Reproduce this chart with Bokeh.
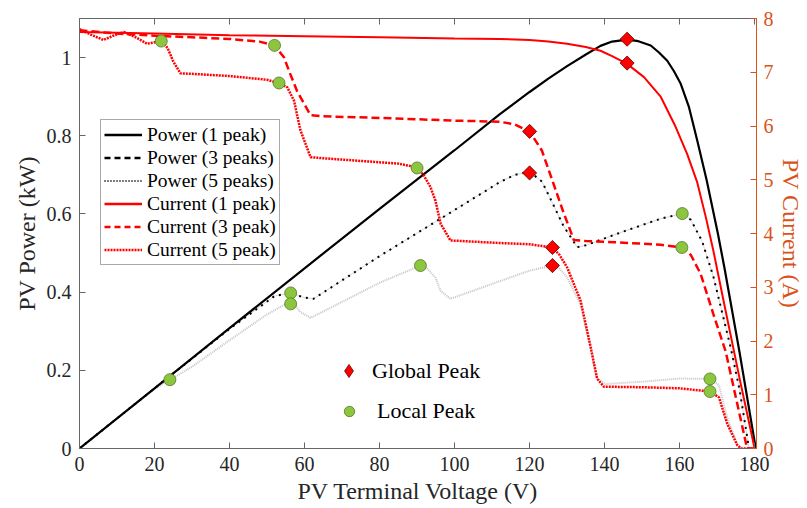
import math
from bokeh.plotting import figure
from bokeh.models import Range1d, LinearAxis, FixedTicker, Legend, LegendItem, CustomJSTickFormatter
from bokeh.embed import file_html
from bokeh.resources import INLINE

# ---------------- data ----------------
x_ticks = [0, 20, 40, 60, 80, 100, 120, 140, 160, 180]
p_ticks = [0, 0.2, 0.4, 0.6, 0.8, 1.0]
i_ticks = [0, 1, 2, 3, 4, 5, 6, 7, 8]

# Power, 1 peak (kW)
p1_v = [0, 20, 40, 60, 80, 100, 112, 120, 125, 130, 135, 138.9, 142, 146, 149, 152.3, 154.5, 156.7, 158.5, 160.3, 162.5, 164.7, 167.2, 170.2, 172, 176, 180.3]
p1_kw = [0, 0.154, 0.308, 0.461, 0.613, 0.763, 0.855, 0.912, 0.946, 0.978, 1.008, 1.030, 1.041, 1.046, 1.042, 1.031, 1.013, 0.992, 0.965, 0.933, 0.873, 0.788, 0.687, 0.55, 0.46, 0.245, 0]

# Power, 3 peaks (kW)
p3_v = [0, 20, 40, 52, 56.3, 58, 60, 62.4, 80, 100, 112, 116, 120, 123.3, 126, 129, 132.7, 135, 145, 155, 160.7, 163, 166, 169, 173.6, 176, 178.5, 180]
p3_kw = [0, 0.154, 0.306, 0.39, 0.398, 0.392, 0.386, 0.383, 0.492, 0.61, 0.681, 0.70, 0.708, 0.683, 0.63, 0.57, 0.515, 0.52, 0.555, 0.588, 0.601, 0.585, 0.53, 0.44, 0.259, 0.15, 0, 0]

# Power, 5 peaks (kW)
p5_v = [0, 10, 20, 24.1, 30, 40, 50, 55.4, 57.2, 58.9, 61.6, 70, 80, 90.9, 92.5, 94.9, 96.3, 98.9, 110, 120, 126.1, 128, 130, 133.6, 136.3, 138, 140.3, 150, 160, 168.1, 170.5, 172.7, 175.4, 176.5, 180]
p5_kw = [0, 0.077, 0.152, 0.176, 0.209, 0.277, 0.343, 0.372, 0.37, 0.349, 0.334, 0.375, 0.424, 0.468, 0.462, 0.437, 0.403, 0.383, 0.421, 0.455, 0.468, 0.46, 0.438, 0.367, 0.256, 0.179, 0.165, 0.171, 0.179, 0.178, 0.162, 0.079, 0.01, 0, 0]

# Current, 1 peak (A)
i1_v = [0, 20, 40, 60, 80, 100, 112, 120, 125, 130, 135, 138.9, 142, 145.9, 150.5, 155, 158.9, 162, 164.7, 167, 169, 172, 176, 180]
i1_a = [7.75, 7.72, 7.69, 7.67, 7.65, 7.63, 7.62, 7.60, 7.57, 7.53, 7.47, 7.40, 7.30, 7.16, 6.91, 6.54, 5.99, 5.48, 4.95, 4.3, 3.68, 2.65, 1.3, 0]

# Current, 3 peaks (A)
i3_v = [0, 10, 20, 30, 40, 48, 52, 54.5, 56, 58, 61.6, 65, 80, 100, 112, 116, 120, 123.3, 126, 129, 131.8, 135, 145, 155, 160.6, 163, 165.6, 169, 172.3, 175, 178, 180]
i3_a = [7.78, 7.72, 7.68, 7.65, 7.62, 7.57, 7.50, 7.28, 7.0, 6.65, 6.2, 6.18, 6.15, 6.1, 6.08, 6.03, 5.9, 5.54, 5.0, 4.4, 3.88, 3.86, 3.83, 3.79, 3.74, 3.6, 3.25, 2.5, 1.8, 0.95, 0, 0]

# Current, 5 peaks (A)
i5_v = [0, 3, 6.4, 9, 11.8, 15, 18, 21.8, 23.5, 25, 26.9, 30, 40, 50, 53.2, 55.4, 57.2, 58.9, 61.6, 65, 75, 85, 90, 91.8, 93.6, 94.9, 96.3, 98.9, 102, 110, 120, 126.1, 128, 130, 133.6, 136.3, 138, 139.8, 150, 160, 168.1, 170.5, 172.7, 175.4, 176.5, 180]
i5_a = [7.8, 7.7, 7.6, 7.68, 7.75, 7.65, 7.53, 7.58, 7.45, 7.2, 6.98, 6.97, 6.93, 6.86, 6.8, 6.72, 6.47, 5.92, 5.42, 5.4, 5.35, 5.3, 5.23, 5.08, 4.86, 4.61, 4.18, 3.87, 3.86, 3.83, 3.8, 3.74, 3.6, 3.37, 2.75, 1.88, 1.3, 1.15, 1.14, 1.12, 1.06, 0.95, 0.46, 0.06, 0, 0]

# Global peaks
gp_p_v = [146, 120, 126.1]
gp_p_kw = [1.047, 0.705, 0.468]
gp_i_v = [146, 120, 126.1]
gp_i_a = [7.17, 5.9, 3.74]

# Local peaks
lp_p_v = [24.1, 56.3, 56.3, 90.9, 160.7, 168.1]
lp_p_kw = [0.176, 0.398, 0.37, 0.468, 0.601, 0.178]
lp_i_v = [21.8, 52, 53.2, 90, 160.6, 168.1]
lp_i_a = [7.58, 7.5, 6.8, 5.22, 3.74, 1.06]

# ---------------- styling ----------------
FONT = "Liberation Serif"
ORANGE = "#D95319"
AXC = "#666666"
TXT = "#262626"
RED = "#FF0000"
GREEN = "#8CC63F"
NAN = float("nan")

p = figure(width=807, height=508, output_backend="svg", toolbar_location=None,
           x_range=Range1d(0, 180.5), y_range=Range1d(0, 1.1),
           min_border_left=79, min_border_right=51, min_border_top=18, min_border_bottom=60)
p.extra_y_ranges = {"cur": Range1d(0, 8)}
p.xgrid.visible = False
p.ygrid.visible = False
p.outline_line_color = AXC
p.outline_line_width = 1
p.background_fill_color = "white"
p.border_fill_color = "white"

# bottom axis
xa = p.xaxis[0]
xa.ticker = FixedTicker(ticks=x_ticks)
xa.axis_label = "PV Terminal Voltage (V)"
xa.axis_label_text_font = FONT
xa.axis_label_text_font_size = "24px"
xa.axis_label_text_font_style = "normal"
xa.axis_label_text_color = TXT
xa.axis_label_standoff = 4
xa.major_label_text_font = FONT
xa.major_label_text_font_size = "20px"
xa.major_label_text_color = TXT
xa.major_label_standoff = 8
xa.major_tick_in = 6
xa.major_tick_out = 0
xa.minor_tick_line_color = None
xa.axis_line_color = AXC
xa.major_tick_line_color = AXC

# left axis
ya = p.yaxis[0]
ya.ticker = FixedTicker(ticks=p_ticks)
ya.major_label_overrides = {0: "0", 1: "1"}
ya.axis_label = "PV Power (kW)"
ya.axis_label_text_font = FONT
ya.axis_label_text_font_size = "24px"
ya.axis_label_text_font_style = "normal"
ya.axis_label_text_color = TXT
ya.axis_label_standoff = 4
ya.major_label_text_font = FONT
ya.major_label_text_font_size = "20px"
ya.major_label_text_color = TXT
ya.major_label_standoff = 8
ya.major_tick_in = 6
ya.major_tick_out = 0
ya.minor_tick_line_color = None
ya.axis_line_color = AXC
ya.major_tick_line_color = AXC

# top axis (ticks only)
top = LinearAxis(ticker=FixedTicker(ticks=x_ticks),
                 formatter=CustomJSTickFormatter(code="return ''"),
                 major_label_text_font_size="0px", major_label_standoff=0,
                 major_tick_in=6, major_tick_out=0, minor_tick_line_color=None,
                 axis_line_color=None, major_tick_line_color=AXC)
p.add_layout(top, "above")

# right axis (current)
ra = LinearAxis(y_range_name="cur", ticker=FixedTicker(ticks=i_ticks),
                axis_label="PV Current (A)",
                axis_label_text_font=FONT, axis_label_text_font_size="24px",
                axis_label_text_font_style="normal", axis_label_text_color=ORANGE,
                axis_label_standoff=1,
                major_label_text_font=FONT, major_label_text_font_size="20px",
                major_label_text_color=ORANGE, major_label_standoff=7,
                major_tick_in=6, major_tick_out=0, minor_tick_line_color=None,
                axis_line_color=ORANGE, major_tick_line_color=ORANGE)
try:
    ra.axis_label_orientation = "vertical"
except Exception:
    pass
p.add_layout(ra, "right")

# ---------------- curves ----------------
p.line(p5_v, p5_kw, line_color="#c4c4c4", line_width=2, line_dash="1 1")
p.line(p3_v, p3_kw, line_color="#d8d8d8", line_width=1)
p.line(p3_v, p3_kw, line_color="black", line_width=2, line_dash="2 5")
p.line(p1_v, p1_kw, line_color="black", line_width=2.2)

p.line(i5_v, i5_a, y_range_name="cur", line_color=RED, line_width=2.5, line_dash="2 1")
p.line(i3_v, i3_a, y_range_name="cur", line_color=RED, line_width=2.5, line_dash="8 4")
p.line(i1_v, i1_a, y_range_name="cur", line_color=RED, line_width=2)

# markers
p.scatter(lp_p_v, lp_p_kw, marker="circle", size=12, fill_color=GREEN, line_color="#55752b", line_width=0.8)
p.scatter(lp_i_v, lp_i_a, y_range_name="cur", marker="circle", size=12, fill_color=GREEN, line_color="#55752b", line_width=0.8)
p.scatter(gp_p_v, gp_p_kw, marker="square", angle=math.pi / 4, size=10, fill_color=RED, line_color="#5a0000", line_width=0.8)
p.scatter(gp_i_v, gp_i_a, y_range_name="cur", marker="square", angle=math.pi / 4, size=10, fill_color=RED, line_color="#5a0000", line_width=0.8)

# ---------------- legends (proxy renderers hold no visible point) ----------------
l1 = p.line([NAN, NAN], [NAN, NAN], line_color="black", line_width=2.5)
l2 = p.line([NAN, NAN], [NAN, NAN], line_color="black", line_width=2.5, line_dash="6 4")
l3 = p.line([NAN, NAN], [NAN, NAN], line_color="black", line_width=2, line_dash="1 2")
l4 = p.line([NAN, NAN], [NAN, NAN], line_color=RED, line_width=2.5)
l5 = p.line([NAN, NAN], [NAN, NAN], line_color=RED, line_width=2.5, line_dash="6 4")
l6 = p.line([NAN, NAN], [NAN, NAN], line_color=RED, line_width=2.5, line_dash="2 1")

leg = Legend(items=[LegendItem(label="Power (1 peak)", renderers=[l1]),
                    LegendItem(label="Power (3 peaks)", renderers=[l2]),
                    LegendItem(label="Power (5 peaks)", renderers=[l3]),
                    LegendItem(label="Current (1 peak)", renderers=[l4]),
                    LegendItem(label="Current (3 peak)", renderers=[l5]),
                    LegendItem(label="Current (5 peak)", renderers=[l6])],
             location=(21, 183), margin=0, padding=3, spacing=0,
             glyph_width=38, glyph_height=23, label_height=23, label_standoff=5,
             label_text_font=FONT, label_text_font_size="19.5px", label_text_color="black",
             border_line_color="#555555", border_line_width=1,
             background_fill_color="white", background_fill_alpha=1)
p.add_layout(leg, "center")

g1 = p.scatter([NAN], [NAN], marker="diamond", fill_color=RED, line_color="#5a0000", line_width=0.8)
g2 = p.scatter([NAN], [NAN], marker="circle", fill_color=GREEN, line_color="#55752b", line_width=0.8)

legA = Legend(items=[LegendItem(label="Global Peak", renderers=[g1])],
              location=(253, 61), margin=0, padding=0, spacing=0,
              glyph_width=33, glyph_height=33, label_height=33, label_standoff=7,
              label_text_font=FONT, label_text_font_size="22px", label_text_color="black",
              border_line_color=None, background_fill_alpha=0)
legB = Legend(items=[LegendItem(label="Local Peak", renderers=[g2])],
              location=(257, 24), margin=0, padding=0, spacing=0,
              glyph_width=26, glyph_height=26, label_height=26, label_standoff=15,
              label_text_font=FONT, label_text_font_size="22px", label_text_color="black",
              border_line_color=None, background_fill_alpha=0)
p.add_layout(legA, "center")
p.add_layout(legB, "center")

open("out.html", "w").write(file_html(p, INLINE))
